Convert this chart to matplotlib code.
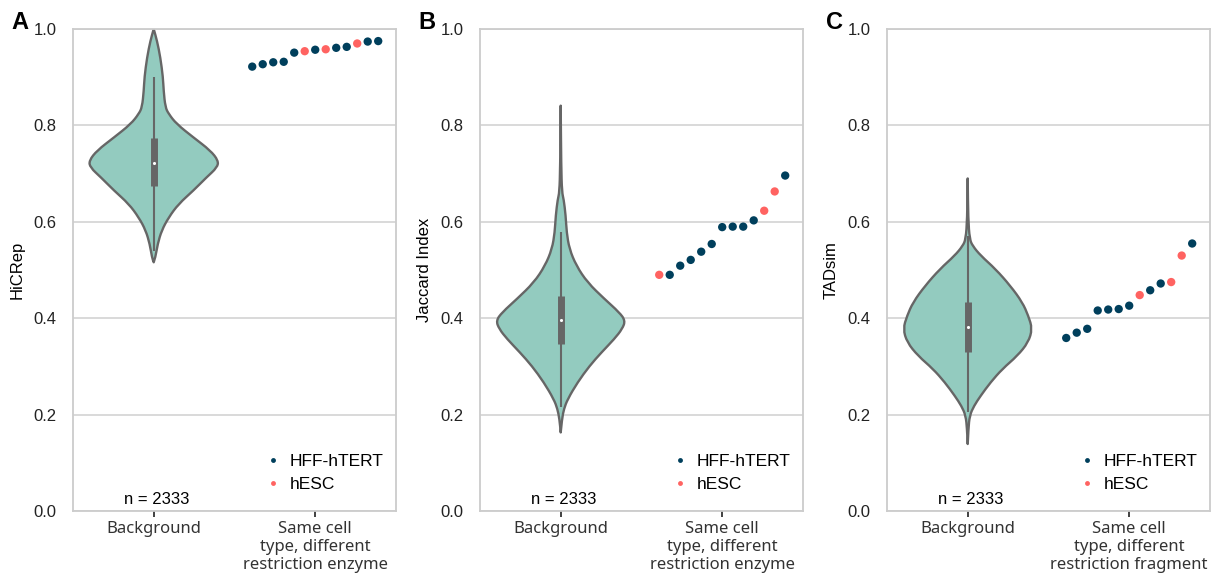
import numpy as np
import matplotlib
matplotlib.use('Agg')
import matplotlib.pyplot as plt
from matplotlib.path import Path
from matplotlib.patches import PathPatch
from matplotlib.lines import Line2D

plt.rcParams['font.family'] = ['Liberation Sans', 'DejaVu Sans']

# ---- data ----
panel_letters = ['A', 'B', 'C']
y_labels = ['HiCRep', 'Jaccard Index', 'TADsim']
categories = [
    ['Background', 'Same cell\ntype, different\nrestriction enzyme'],
    ['Background', 'Same cell\ntype, different\nrestriction enzyme'],
    ['Background', 'Same cell\ntype, different\nrestriction fragment'],
]
n_background = 2333
legend_names = ['HFF-hTERT', 'hESC']

# background violin outlines: score level and relative density (max = 1)
hicrep_bg_y = [0.516, 0.526, 0.554, 0.582, 0.609, 0.637, 0.665, 0.692, 0.713, 0.727,
               0.748, 0.775, 0.803, 0.824, 0.838, 0.872, 0.900, 0.941, 0.976, 1.0]
hicrep_bg_dens = [0, 1.7, 4, 8, 15, 25, 40, 53, 64, 65,
                  57, 40, 23, 15, 11.7, 10, 9.3, 6.7, 3.3, 0]
jaccard_bg_y = [0.163, 0.191, 0.212, 0.232, 0.267, 0.301, 0.329, 0.357, 0.378, 0.395, 0.412,
                0.440, 0.474, 0.509, 0.544, 0.578, 0.613, 0.647, 0.661, 0.716, 0.841]
jaccard_bg_dens = [0, 1.3, 3.3, 7, 17, 29, 41, 54, 62, 65, 59,
                   44, 27, 15.7, 8.7, 6, 5, 3, 1.3, 0.5, 0]
tadsim_bg_y = [0.139, 0.170, 0.198, 0.218, 0.239, 0.267, 0.295, 0.322, 0.350, 0.378,
               0.405, 0.433, 0.467, 0.502, 0.530, 0.550, 0.564, 0.606, 0.690]
tadsim_bg_dens = [0, 0.7, 2, 6.3, 13, 23, 35, 50, 61, 65,
                  61, 55, 43, 28, 13, 5, 2, 0.5, 0]

# box stats: whisker low, q1, median, q3, whisker high
hicrep_box = [0.540, 0.674, 0.721, 0.773, 0.901]
jaccard_box = [0.215, 0.346, 0.397, 0.447, 0.578]
tadsim_box = [0.205, 0.330, 0.381, 0.434, 0.571]

# same cell type comparisons (sorted), and cell line of each (0 = HFF-hTERT, 1 = hESC)
hicrep_pairs = [0.922, 0.927, 0.931, 0.932, 0.951, 0.954, 0.957, 0.958, 0.961, 0.963, 0.970, 0.974, 0.975]
hicrep_cell = [0, 0, 0, 0, 0, 1, 0, 1, 0, 0, 1, 0, 0]
jaccard_pairs = [0.490, 0.490, 0.509, 0.521, 0.538, 0.554, 0.589, 0.590, 0.590, 0.603, 0.623, 0.663, 0.696]
jaccard_cell = [1, 0, 0, 0, 0, 0, 0, 0, 0, 0, 1, 1, 0]
tadsim_pairs = [0.359, 0.370, 0.378, 0.416, 0.418, 0.419, 0.426, 0.448, 0.458, 0.472, 0.475, 0.530, 0.555]
tadsim_cell = [0, 0, 0, 0, 0, 0, 0, 1, 0, 0, 1, 1, 0]

bg_y = [hicrep_bg_y, jaccard_bg_y, tadsim_bg_y]
bg_dens = [hicrep_bg_dens, jaccard_bg_dens, tadsim_bg_dens]
boxes = [hicrep_box, jaccard_box, tadsim_box]
pairs = [hicrep_pairs, jaccard_pairs, tadsim_pairs]
cells = [hicrep_cell, jaccard_cell, tadsim_cell]

violin_color = '#93cbbf'
edge_gray = '#666666'
point_colors = ['#003f5c', '#ff6361']
grid_gray = '#d3d3d3'


def smooth_outline(xs, ys):
    # quadratic bezier through midpoints so the outline looks smooth
    pts = np.column_stack([xs, ys])
    verts = [pts[0]]
    codes = [Path.MOVETO]
    for i in range(1, len(pts) - 1):
        mid = (pts[i] + pts[i + 1]) / 2
        verts += [pts[i], mid]
        codes += [Path.CURVE3, Path.CURVE3]
    verts.append(pts[-1])
    codes.append(Path.LINETO)
    verts.append(pts[0])
    codes.append(Path.CLOSEPOLY)
    return Path(verts, codes)


def draw_violin(ax, pos, ys, dens, box):
    ys = np.asarray(ys)
    half = np.asarray(dens) / max(dens) * 0.4
    xs = np.concatenate([pos + half, (pos - half)[::-1]])
    yy = np.concatenate([ys, ys[::-1]])
    patch = PathPatch(smooth_outline(xs, yy), facecolor=violin_color,
                      edgecolor=edge_gray, lw=1.7, zorder=2, joinstyle='round')
    ax.add_patch(patch)
    lo, q1, med, q3, hi = box
    ax.plot([pos, pos], [lo, hi], color=edge_gray, lw=1.5, zorder=3, solid_capstyle='butt')
    ax.plot([pos, pos], [q1, q3], color=edge_gray, lw=5, zorder=3, solid_capstyle='butt')
    ax.scatter([pos], [med], s=5, color='white', zorder=4, linewidths=0)


fig, axes = plt.subplots(1, 3, figsize=(12.18, 5.84), dpi=100)
fig.subplots_adjust(left=0.0599, right=0.9934, bottom=0.125, top=0.9503, wspace=0.26)

for i, ax in enumerate(axes):
    ax.set_xlim(-0.5, 1.5)
    ax.set_ylim(0, 1.0)
    ax.set_yticks([0.0, 0.2, 0.4, 0.6, 0.8, 1.0])
    ax.set_yticklabels(['0.0', '0.2', '0.4', '0.6', '0.8', '1.0'], fontsize=12, color='#222222')
    ax.yaxis.grid(True, color=grid_gray, lw=1.2, zorder=0)
    ax.set_axisbelow(True)
    for sp in ax.spines.values():
        sp.set_color('#cccccc')
        sp.set_linewidth(1.3)
    ax.tick_params(axis='y', length=0, pad=12)
    ax.tick_params(axis='x', length=4, width=1.3, color='#333333', pad=3)
    ax.set_xticks([0, 1])
    ax.set_xticklabels(categories[i], fontsize=12, color='#333333',
                       family=['Noto Sans', 'DejaVu Sans'], linespacing=1.18)
    ax.set_ylabel(y_labels[i], fontsize=12, labelpad=6)

    draw_violin(ax, 0, bg_y[i], bg_dens[i], boxes[i])

    vals = pairs[i]
    xs = 1 + np.linspace(-0.39, 0.39, len(vals))
    cols = [point_colors[c] for c in cells[i]]
    ax.scatter(xs, vals, s=36, c=cols, linewidths=0, zorder=5)

    ax.text(0.02, 0.008, 'n = %d' % n_background, ha='center', va='bottom', fontsize=12)

    handles = [Line2D([], [], ls='', marker='o', ms=3.5, mec='none', mfc=point_colors[k])
               for k in range(2)]
    ax.legend(handles, legend_names, loc='lower right', bbox_to_anchor=(1.0, 0.015),
              frameon=False, fontsize=12.5, handletextpad=0.5, handlelength=1.0,
              labelspacing=0.45, borderaxespad=0.3)

    ax.text(-0.19, 1.0, panel_letters[i], transform=ax.transAxes, fontsize=17,
            fontweight='bold', ha='left', va='baseline')

fig.savefig('out.png', dpi=100)
